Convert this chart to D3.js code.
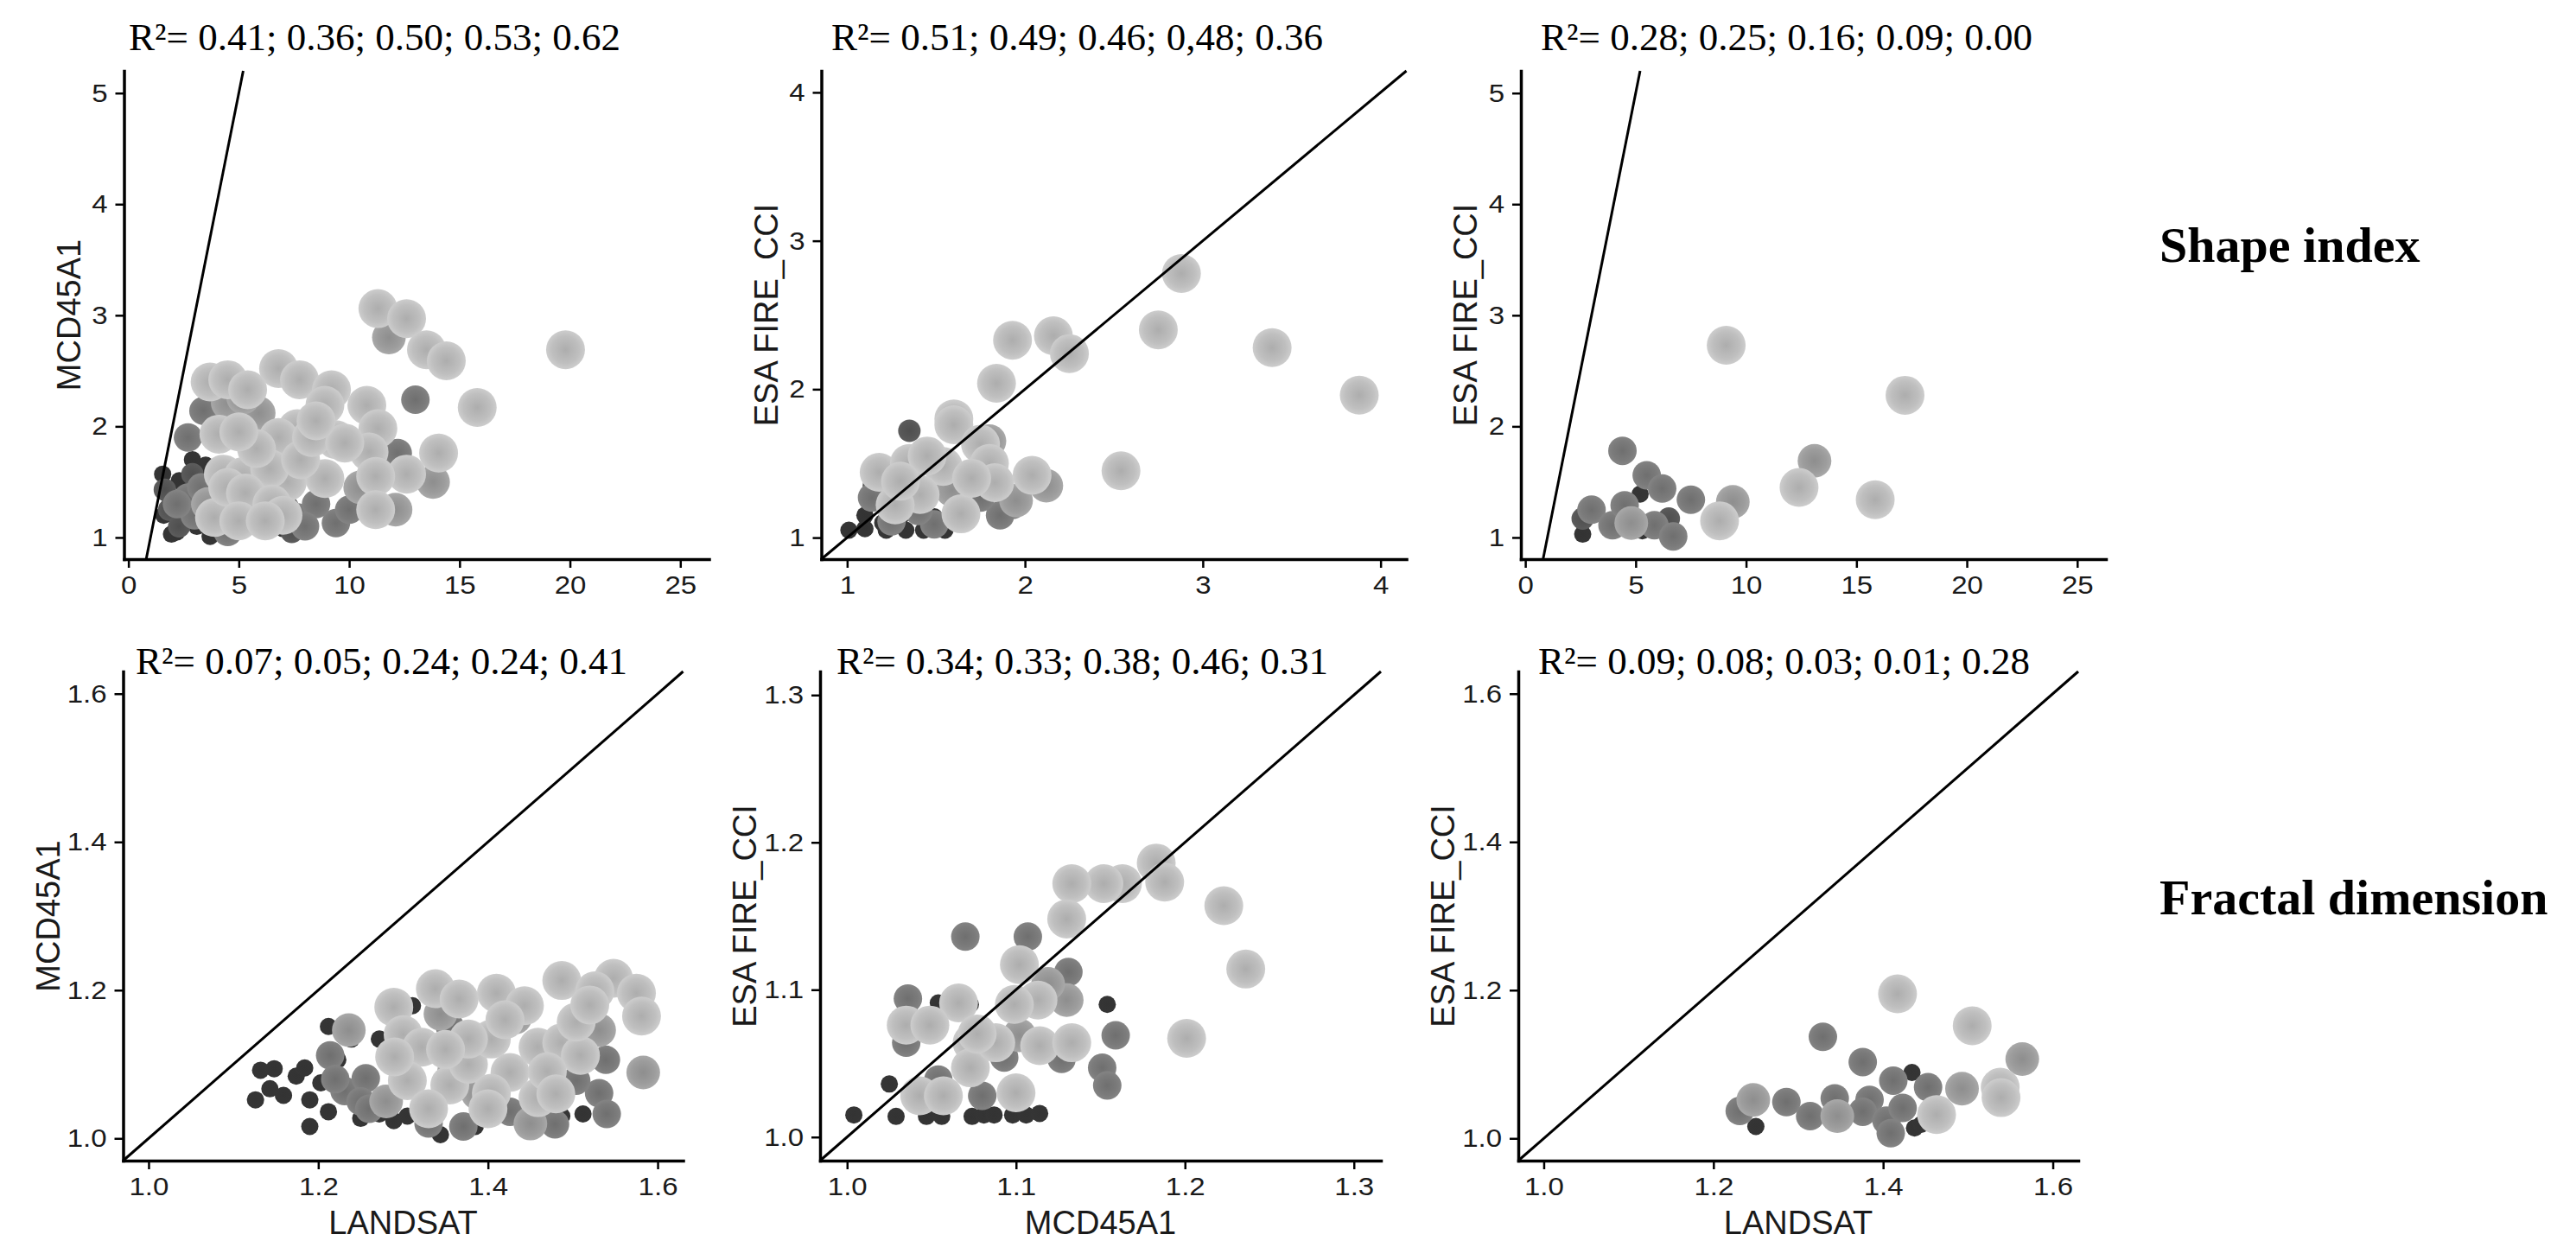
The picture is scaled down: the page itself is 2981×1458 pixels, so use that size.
<!DOCTYPE html>
<html>
<head>
<meta charset="utf-8">
<script src="https://cdn.jsdelivr.net/npm/d3@7"></script>
<style>
    body { margin: 0; background: #fff; }
    svg { display: block; }
</style>
</head>
<body>
<svg id="chart" width="2981" height="1458"></svg>
<script>
// ---- data: [x, y, group]  (group 1 = darkest / smallest ... 5 = lightest / largest)
const shapeLandsatMcd = [
    [1.95,1.03,1],[3.7,1.01,1],[1.55,1.57,1],[1.75,1.39,1],[2.5,1.15,1],[3.1,1.10,1],[3.5,1.65,1],[2.9,1.70,1],
    [5.2,1.08,1],[6.0,1.08,1],[6.8,1.15,1],[7.0,1.08,1],[6.0,1.57,1],[6.4,1.32,1],[7.3,1.29,1],[2.7,1.32,1],
    [2.3,1.51,1],[4.1,1.15,1],[1.6,1.20,1],[2.2,1.05,1],[3.2,1.25,1],[4.6,1.10,1],
    [2.9,1.57,2],[1.85,1.25,2],[1.65,1.43,2],[3.8,1.22,2],[2.3,1.10,2],[5.3,1.12,2],[6.5,1.20,2],[7.4,1.05,2],
    [13.0,2.24,3],[9.4,1.13,3],[10.0,1.25,3],[12.2,1.76,3],[3.4,2.14,3],[2.7,1.90,3],[2.7,1.36,3],[7.65,1.18,3],
    [4.5,1.05,3],[3.3,1.45,3],[8.5,1.30,3],[3.0,1.20,3],[2.2,1.30,3],[8.0,1.10,3],
    [11.8,2.80,4],[13.8,1.50,4],[12.1,1.25,4],[5.9,2.12,4],[4.5,2.21,4],[5.2,2.26,4],[6.8,1.36,4],[10.5,1.45,4],
    [3.6,1.30,4],
    [11.3,3.06,5],[12.6,2.97,5],[19.8,2.69,5],[13.5,2.69,5],[14.4,2.59,5],[15.8,2.17,5],[6.8,2.52,5],[7.75,2.42,5],
    [3.7,2.40,5],[4.5,2.42,5],[5.4,2.33,5],[9.2,2.33,5],[8.9,2.19,5],[10.8,2.19,5],[11.3,1.98,5],[14.05,1.76,5],
    [10.9,1.77,5],[12.6,1.57,5],[11.2,1.55,5],[11.2,1.25,5],[9.4,1.88,5],[7.65,1.98,5],[6.8,1.90,5],[4.1,1.93,5],
    [8.9,1.53,5],[4.75,1.36,5],[6.0,1.36,5],[7.2,1.50,5],[4.3,1.57,5],[5.6,1.25,5],[3.9,1.18,5],[5.2,1.55,5],
    [6.4,1.62,5],[5.8,1.80,5],[7.8,1.70,5],[8.3,1.90,5],[9.8,1.85,5],[5.0,1.95,5],[8.5,2.05,5],[4.5,1.45,5],
    [5.3,1.40,5],[6.5,1.30,5],[7.0,1.20,5],[5.0,1.15,5],[6.2,1.15,5]
];
const shapeMcdEsa = [
    [1.01,1.05,1],[1.10,1.06,1],[1.10,1.15,1],[1.22,1.05,1],[1.33,1.05,1],[1.43,1.05,1],[1.55,1.05,1],[1.49,1.14,1],
    [1.30,1.14,1],[1.20,1.10,1],
    [1.35,1.72,2],[1.15,1.35,2],
    [1.93,1.22,3],[1.86,1.15,3],[1.14,1.27,3],[1.25,1.11,3],[1.49,1.09,3],[1.75,1.27,3],[1.40,1.18,3],
    [2.12,1.35,4],[1.80,1.65,4],[1.59,1.32,4],[1.95,1.25,4],
    [2.88,2.78,5],[2.75,2.40,5],[3.39,2.28,5],[3.88,1.96,5],[1.93,2.33,5],[2.16,2.36,5],[2.25,2.24,5],[1.84,2.04,5],
    [2.54,1.45,5],[1.60,1.80,5],[1.60,1.76,5],[2.04,1.42,5],[1.18,1.44,5],[1.35,1.50,5],[1.75,1.63,5],[1.80,1.50,5],
    [1.54,1.48,5],[1.64,1.16,5],[1.83,1.37,5],[1.41,1.29,5],[1.70,1.40,5],[1.27,1.22,5],[1.45,1.55,5],[1.30,1.38,5]
];
const shapeLandsatEsa = [
    [2.6,1.03,1],[5.3,1.06,1],[5.2,1.39,1],
    [6.5,1.17,2],[2.6,1.17,2],
    [7.5,1.34,3],[4.4,1.78,3],[5.5,1.56,3],[6.2,1.44,3],[3.0,1.25,3],[3.95,1.11,3],[5.85,1.11,3],[6.7,1.01,3],[4.5,1.29,3],
    [13.1,1.69,4],[9.4,1.32,4],[4.8,1.13,4],
    [9.1,2.73,5],[17.2,2.28,5],[12.4,1.45,5],[15.85,1.34,5],[8.8,1.15,5]
];
const fractalLandsatMcd = [
    [1.126,1.052,1],[1.132,1.092,1],[1.148,1.094,1],[1.143,1.067,1],[1.159,1.058,1],[1.174,1.084,1],[1.184,1.095,1],
    [1.190,1.052,1],[1.190,1.016,1],[1.212,1.151,1],[1.212,1.036,1],[1.203,1.075,1],[1.239,1.134,1],[1.250,1.027,1],
    [1.272,1.134,1],[1.272,1.033,1],[1.289,1.024,1],[1.305,1.030,1],[1.344,1.005,1],[1.385,1.016,1],[1.404,1.033,1],
    [1.465,1.033,1],[1.512,1.033,1],[1.311,1.179,1],[1.487,1.030,1],[1.443,1.027,1],[1.223,1.106,1],[1.322,1.038,1],
    [1.214,1.112,3],[1.231,1.064,3],[1.256,1.081,3],[1.250,1.050,3],[1.371,1.016,3],[1.479,1.019,3],[1.531,1.061,3],
    [1.540,1.033,3],[1.539,1.106,3],[1.426,1.036,3],[1.355,1.151,3],[1.504,1.078,3],[1.300,1.078,3],[1.220,1.080,3],
    [1.260,1.040,3],[1.330,1.020,3],
    [1.236,1.146,4],[1.583,1.089,4],[1.531,1.146,4],[1.344,1.168,4],[1.388,1.061,4],[1.432,1.163,4],[1.280,1.050,4],
    [1.450,1.020,4],[1.360,1.090,4],
    [1.289,1.177,5],[1.338,1.202,5],[1.366,1.188,5],[1.410,1.196,5],[1.443,1.179,5],[1.487,1.213,5],[1.548,1.216,5],
    [1.526,1.199,5],[1.575,1.196,5],[1.581,1.165,5],[1.300,1.140,5],[1.322,1.123,5],[1.355,1.072,5],[1.377,1.100,5],
    [1.404,1.134,5],[1.426,1.089,5],[1.459,1.123,5],[1.487,1.129,5],[1.509,1.112,5],[1.459,1.055,5],[1.404,1.061,5],
    [1.377,1.134,5],[1.305,1.078,5],[1.504,1.157,5],[1.350,1.120,5],[1.420,1.160,5],[1.470,1.090,5],[1.520,1.180,5],
    [1.330,1.040,5],[1.400,1.040,5],[1.480,1.060,5],[1.290,1.110,5]
];
const fractalMcdEsa = [
    [1.004,1.015,1],[1.025,1.036,1],[1.029,1.014,1],[1.047,1.014,1],[1.056,1.014,1],[1.074,1.014,1],[1.081,1.015,1],
    [1.087,1.015,1],[1.098,1.015,1],[1.106,1.015,1],[1.114,1.016,1],[1.154,1.090,1],[1.054,1.091,1],[1.073,1.090,1],
    [1.070,1.136,3],[1.107,1.136,3],[1.131,1.112,3],[1.036,1.094,3],[1.035,1.064,3],[1.093,1.054,3],[1.159,1.069,3],
    [1.151,1.047,3],[1.154,1.035,3],[1.127,1.053,3],[1.080,1.028,3],[1.054,1.039,3],
    [1.130,1.093,4],[1.119,1.104,4],[1.102,1.069,4],
    [1.183,1.186,5],[1.188,1.173,5],[1.163,1.172,5],[1.152,1.172,5],[1.133,1.172,5],[1.130,1.148,5],[1.223,1.157,5],
    [1.236,1.114,5],[1.201,1.067,5],[1.102,1.117,5],[1.113,1.093,5],[1.099,1.090,5],[1.066,1.091,5],[1.035,1.076,5],
    [1.049,1.076,5],[1.074,1.064,5],[1.114,1.062,5],[1.133,1.064,5],[1.073,1.047,5],[1.043,1.028,5],[1.057,1.028,5],
    [1.100,1.030,5],[1.088,1.064,5],[1.077,1.070,5]
];
const fractalLandsatEsa = [
    [1.434,1.089,1],[1.250,1.016,1],[1.437,1.014,1],[1.445,1.019,1],
    [1.329,1.137,3],[1.376,1.103,3],[1.412,1.078,3],[1.453,1.069,3],[1.231,1.037,3],[1.286,1.049,3],[1.314,1.030,3],
    [1.343,1.054,3],[1.384,1.052,3],[1.376,1.036,3],[1.404,1.024,3],[1.409,1.007,3],[1.423,1.041,3],
    [1.564,1.107,4],[1.493,1.067,4],[1.247,1.052,4],[1.346,1.030,4],
    [1.417,1.195,5],[1.505,1.152,5],[1.538,1.069,5],[1.539,1.055,5],[1.463,1.032,5]
];

// R² per panel (five thresholds each)
const r2Shape = ["R²= 0.41; 0.36; 0.50; 0.53; 0.62", "R²= 0.51; 0.49; 0.46; 0,48; 0.36", "R²= 0.28; 0.25; 0.16; 0.09; 0.00"];
const r2Fractal = ["R²= 0.07; 0.05; 0.24; 0.24; 0.41", "R²= 0.34; 0.33; 0.38; 0.46; 0.31", "R²= 0.09; 0.08; 0.03; 0.01; 0.28"];

// tick values
const shapeAreaTicks = [0, 5, 10, 15, 20, 25];
const shapeYTicks = [1, 2, 3, 4, 5];
const shapeMcdTicks = [1, 2, 3, 4];
const fractalWideTicks = [1.0, 1.2, 1.4, 1.6];
const fractalNarrowTicks = [1.0, 1.1, 1.2, 1.3];

const rowLabels = ["Shape index", "Fractal dimension"];

// point look per group
const groupFill = ["#353535", "#575757", "#7b7b7b", "#9d9d9d", "#bfbfbf"];
const groupRadius = [10, 13, 16.5, 19.5, 22.5];

const svg = d3.select("#chart");
const sansFont = "'Liberation Sans', Arial, Helvetica, sans-serif";
const serifFont = "'Liberation Serif', 'Times New Roman', Times, serif";

const fmtInt = d3.format("d"), fmtOne = d3.format(".1f");
const tickStretch = 1.1; // tick labels in the figure are a bit wide

const panels = [
    { data: shapeLandsatMcd, left: 143.5, top: 82, w: 677, h: 565, xd: [-0.2, 26.3], yd: [0.805, 5.2], xt: shapeAreaTicks, yt: shapeYTicks, fmt: fmtInt, r2: r2Shape[0], r2x: 149, r2y: 58, yLab: "MCD45A1", xLab: null, yOff: 51 },
    { data: shapeMcdEsa, left: 950.5, top: 82, w: 677, h: 565, xd: [0.855, 4.145], yd: [0.855, 4.145], xt: shapeMcdTicks, yt: shapeMcdTicks, fmt: fmtInt, r2: r2Shape[1], r2x: 962, r2y: 58, yLab: "ESA FIRE_CCI", xLab: null, yOff: 51 },
    { data: shapeLandsatEsa, left: 1760, top: 82, w: 677, h: 565, xd: [-0.2, 26.3], yd: [0.805, 5.2], xt: shapeAreaTicks, yt: shapeYTicks, fmt: fmtInt, r2: r2Shape[2], r2x: 1783, r2y: 58, yLab: "ESA FIRE_CCI", xLab: null, yOff: 51 },
    { data: fractalLandsatMcd, left: 142.5, top: 777, w: 648, h: 566, xd: [0.97, 1.63], yd: [0.97, 1.63], xt: fractalWideTicks, yt: fractalWideTicks, fmt: fmtOne, r2: r2Fractal[0], r2x: 157, r2y: 780, yLab: "MCD45A1", xLab: "LANDSAT", yOff: 74 },
    { data: fractalMcdEsa, left: 949, top: 777, w: 649, h: 566, xd: [0.984, 1.316], yd: [0.984, 1.316], xt: fractalNarrowTicks, yt: fractalNarrowTicks, fmt: fmtOne, r2: r2Fractal[1], r2x: 968, r2y: 780, yLab: "ESA FIRE_CCI", xLab: "MCD45A1", yOff: 74 },
    { data: fractalLandsatEsa, left: 1757, top: 777, w: 648, h: 566, xd: [0.97, 1.63], yd: [0.97, 1.63], xt: fractalWideTicks, yt: fractalWideTicks, fmt: fmtOne, r2: r2Fractal[2], r2x: 1780, r2y: 780, yLab: "ESA FIRE_CCI", xLab: "LANDSAT", yOff: 74 }
];

// soft radial gradients: darker centre, lighter rim
const defs = svg.append("defs");
groupFill.forEach((c, i) => {
    const base = d3.color(c);
    const grad = defs.append("radialGradient").attr("id", "pt" + (i + 1));
    const stops = i === 0
        ? [[0, base.darker(0.1)], [1, base]]
        : [[0, base.darker(0.28)], [0.35, base.darker(0.14)], [0.7, base], [1, base.brighter(0.2)]];
    stops.forEach(s => grad.append("stop").attr("offset", s[0]).attr("stop-color", s[1].formatHex()));
});

svg.append("rect").attr("width", 2981).attr("height", 1458).attr("fill", "#fff");

panels.forEach(p => {
    const x = d3.scaleLinear().domain(p.xd).range([0, p.w]);
    const y = d3.scaleLinear().domain(p.yd).range([p.h, 0]);
    const g = svg.append("g").attr("transform", `translate(${p.left},${p.top})`);

    // points, darkest first
    const pts = p.data.slice().sort((a, b) => a[2] - b[2]);
    g.selectAll("circle.pt")
        .data(pts)
        .join("circle")
        .attr("class", "pt")
        .attr("cx", d => x(d[0]))
        .attr("cy", d => y(d[1]))
        .attr("r", d => groupRadius[d[2] - 1])
        .attr("fill", d => `url(#pt${d[2]})`);

    // 1:1 line
    const lo = Math.max(p.xd[0], p.yd[0]), hi = Math.min(p.xd[1], p.yd[1]);
    g.append("line")
        .attr("x1", x(lo)).attr("y1", y(lo))
        .attr("x2", x(hi)).attr("y2", y(hi))
        .attr("stroke", "#000").attr("stroke-width", 3);

    // axes
    const xAxis = g.append("g").attr("transform", `translate(0,${p.h})`)
        .call(d3.axisBottom(x).tickValues(p.xt).tickFormat(p.fmt).tickSize(10).tickSizeOuter(0).tickPadding(9));
    const yAxis = g.append("g")
        .call(d3.axisLeft(y).tickValues(p.yt).tickFormat(p.fmt).tickSize(10).tickSizeOuter(0).tickPadding(9));
    [xAxis, yAxis].forEach(a => {
        a.select(".domain").attr("stroke", "#000").attr("stroke-width", 3.5).attr("stroke-linecap", "square");
        a.selectAll(".tick line").attr("stroke", "#000").attr("stroke-width", 2.5);
        a.selectAll(".tick text").attr("fill", "#1a1a1a").style("font-family", sansFont).style("font-size", "30px");
    });
    xAxis.selectAll(".tick text").attr("transform", `scale(${tickStretch},1)`);
    yAxis.selectAll(".tick text").attr("transform", `translate(-19,0) scale(${tickStretch},1) translate(19,0)`);

    // axis titles
    g.append("text")
        .attr("transform", `translate(${-p.yOff},${p.h / 2}) rotate(-90)`)
        .attr("text-anchor", "middle")
        .style("font-family", sansFont).style("font-size", "38px").attr("fill", "#1a1a1a")
        .text(p.yLab);
    if (p.xLab) {
        g.append("text")
            .attr("x", p.w / 2).attr("y", 1428 - p.top)
            .attr("text-anchor", "middle")
            .style("font-family", sansFont).style("font-size", "38px").attr("fill", "#1a1a1a")
            .text(p.xLab);
    }

    // R² annotation
    svg.append("text")
        .attr("x", p.r2x).attr("y", p.r2y)
        .style("font-family", serifFont).style("font-size", "45px").attr("fill", "#000")
        .text(p.r2);
});

// row labels on the right
svg.selectAll("text.rowlab")
    .data(rowLabels)
    .join("text")
    .attr("class", "rowlab")
    .attr("x", 2499)
    .attr("y", (d, i) => i === 0 ? 303 : 1058)
    .style("font-family", serifFont).style("font-size", "58px").style("font-weight", "bold")
    .attr("fill", "#000")
    .text(d => d);
</script>
</body>
</html>
